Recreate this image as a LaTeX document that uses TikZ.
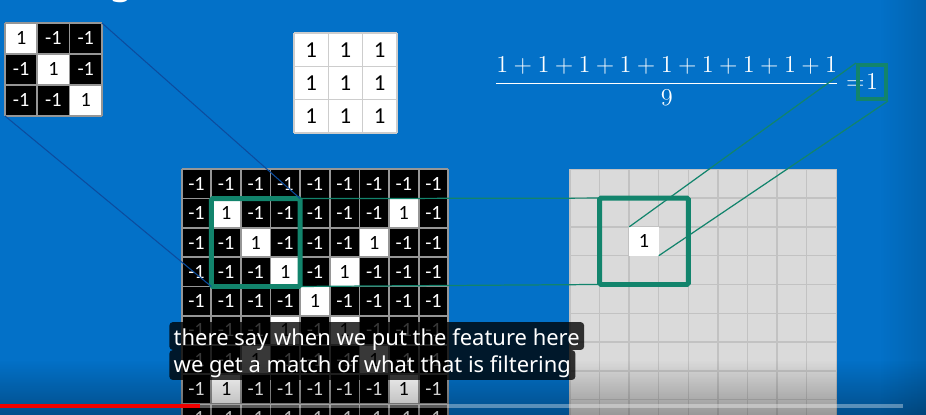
\RequirePackage{fix-cm}
\documentclass[tikz,border=0pt]{standalone}
\usepackage{fontspec}
\usepackage{tikz}
\usetikzlibrary{fadings}
\newfontfamily\cellfont{Carlito}
\newfontfamily\capfont{Noto Sans}
\definecolor{slideblue}{RGB}{3,113,200}
\definecolor{edgeblue}{RGB}{12,76,158}
\definecolor{matchgreen}{RGB}{18,132,108}
\definecolor{poolgrey}{RGB}{218,218,218}
\definecolor{poolline}{RGB}{194,194,194}
\definecolor{cellline}{RGB}{150,150,150}
\definecolor{onesline}{RGB}{205,205,205}
\definecolor{barred}{RGB}{240,0,0}

\begin{document}
\begin{tikzpicture}[x=0.02cm, y=-0.02cm,
  num/.style={font=\cellfont\fontsize{11.5}{12}\selectfont},
  bignum/.style={font=\cellfont\fontsize{13}{14}\selectfont, text=black},
  feedline/.style={edgeblue, line width=0.6pt},
  matchline/.style={matchgreen, line width=0.7pt},
  matchbox/.style={matchgreen, line width=2.8pt, rounded corners=0.8pt},
  caption/.style={fill=black, fill opacity=0.78, text opacity=1, text=white,
    font=\capfont\fontsize{12.5}{13}\selectfont, inner xsep=2.5pt, inner ysep=0pt,
    rounded corners=2pt, anchor=base west}]

  % slide
  \clip (0,0) rectangle (926,415);
  \fill[slideblue] (0,0) rectangle (926,415);
  \fill[black, opacity=0.12, path fading=west] (880,0) rectangle (926,415);
  \node[text=white, font=\capfont\fontsize{22}{22}\selectfont, anchor=base] (ttl) at (121,-6) {g};

  % feature (diagonal)
  \begin{scope}[shift={(5,23)}, x=0.646cm, y=-0.62cm]
    \foreach \r/\row in {0/{1,0,0}, 1/{0,1,0}, 2/{0,0,1}} {
      \foreach \v [count=\c from 0] in \row {
        \ifnum\v=1
          \fill[white] (\c,\r) rectangle ++(1,1);
          \node[num, text=black] (k-\r-\c) at (\c+0.5,\r+0.5) {1};
        \else
          \fill[black] (\c,\r) rectangle ++(1,1);
          \node[num, text=white] (k-\r-\c) at (\c+0.5,\r+0.5) {-1};
        \fi
      }
    }
    \foreach \i in {0,...,3} {
      \draw[cellline, line width=1pt] (\i,0) -- (\i,3);
      \draw[cellline, line width=1pt] (0,\i) -- (3,\i);
    }
    \coordinate (feat-ne) at (3,0);
    \coordinate (feat-sw) at (0,3);
  \end{scope}

  % ones
  \begin{scope}[shift={(294,33)}, x=0.686cm, y=-0.667cm]
    \fill[white] (0,0) rectangle (3,3);
    \foreach \i in {0,...,3} {
      \draw[onesline, line width=0.8pt] (\i,0) -- (\i,3);
      \draw[onesline, line width=0.8pt] (0,\i) -- (3,\i);
    }
    \foreach \r in {0,1,2}
      \foreach \c in {0,1,2}
        \node[bignum] (o-\r-\c) at (\c+0.5,\r+0.5) {1};
  \end{scope}

  % sum / 9
  \node[text=white, font=\fontsize{13.8}{16}\selectfont, anchor=base west, inner sep=0pt]
    (sum) at (494,89.1) {$\displaystyle\frac{1+1+1+1+1+1+1+1+1}{9}=$};
  \node[draw=matchgreen, line width=2.3pt, text=white, minimum width=0.56cm,
    minimum height=0.68cm, inner sep=0pt, font=\fontsize{13.8}{16}\selectfont]
    (res) at (872,82) {$1$};

  % image of an X
  \begin{scope}[shift={(181.7,169.3)}, x=0.5925cm, y=-0.586cm]
    \foreach \r/\row in {
      0/{0,0,0,0,0,0,0,0,0},
      1/{0,1,0,0,0,0,0,1,0},
      2/{0,0,1,0,0,0,1,0,0},
      3/{0,0,0,1,0,1,0,0,0},
      4/{0,0,0,0,1,0,0,0,0},
      5/{0,0,0,1,0,1,0,0,0},
      6/{0,0,1,0,0,0,1,0,0},
      7/{0,1,0,0,0,0,0,1,0},
      8/{0,0,0,0,0,0,0,0,0}} {
      \foreach \v [count=\c from 0] in \row {
        \ifnum\v=1
          \fill[white] (\c,\r) rectangle ++(1,1);
          \node[num, text=black] (x-\r-\c) at (\c+0.5,\r+0.5) {1};
        \else
          \fill[black] (\c,\r) rectangle ++(1,1);
          \node[num, text=white] (x-\r-\c) at (\c+0.5,\r+0.5) {-1};
        \fi
      }
    }
    \foreach \i in {0,...,9} {
      \draw[cellline, line width=1pt] (\i,0) -- (\i,9);
      \draw[cellline, line width=1pt] (0,\i) -- (9,\i);
    }
    \coordinate (win-nw) at (1,1);
    \coordinate (win-ne) at (4,1);
    \coordinate (win-sw) at (1,4);
    \coordinate (win-se) at (4,4);
  \end{scope}

  % filtered map
  \begin{scope}[shift={(570,169.3)}, x=0.592cm, y=-0.576cm]
    \fill[poolgrey] (0,0) rectangle (9,9);
    \foreach \i in {0,...,9} {
      \draw[poolline, line width=0.8pt] (\i,0) -- (\i,9);
      \draw[poolline, line width=0.8pt] (0,\i) -- (9,\i);
    }
    \fill[white] (2,2) rectangle (3,3);
    \node[num, text=black] (out) at (2.5,2.5) {1};
    \coordinate (pool-nw) at (1,1);
    \coordinate (pool-sw) at (1,4);
    \coordinate (pool-se) at (4,4);
    \coordinate (out-nw) at (2,2);
    \coordinate (out-se) at (3,3);
  \end{scope}

  % windows
  \draw[matchbox] (win-nw) rectangle (win-se);
  \draw[matchbox] (pool-nw) rectangle (pool-se);

  % links
  \draw[feedline] (feat-ne) -- (win-ne);
  \draw[feedline] (feat-sw) -- (win-sw);
  \draw[matchline] (win-ne) -- (pool-nw);
  \draw[matchline] (win-se) -- (pool-sw);
  \draw[matchline] (out-nw) -- (res.north west);
  \draw[matchline] (out-se) -- (res.south east);

  % video overlay
  \fill[black, opacity=0.3, path fading=north] (0,360) rectangle (926,415);
  \node[caption, text height=13.04pt, text depth=2.83pt] (cap1) at (169,345)
    {there say when we put the feature here};
  \node[caption, text height=12.47pt, text depth=4.54pt] (cap2) at (169,372)
    {we get a match of what that is filtering};
  \fill[white, opacity=0.35] (200,404) rectangle (903,408);
  \fill[barred] (0,404) rectangle (200,408);

\end{tikzpicture}
\end{document}
